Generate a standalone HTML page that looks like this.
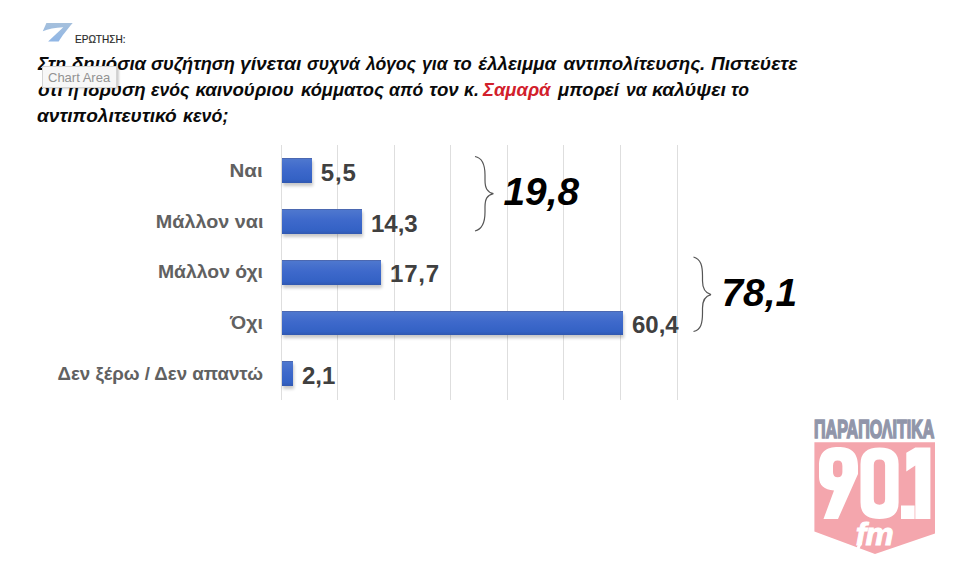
<!DOCTYPE html>
<html>
<head>
<meta charset="utf-8">
<style>
html,body{margin:0;padding:0;background:#fff;}
body{width:960px;height:565px;position:relative;overflow:hidden;font-family:"Liberation Sans",sans-serif;}
.abs{position:absolute;white-space:nowrap;}
svg.abs{left:0;top:0;}
.q{font-weight:bold;font-style:italic;font-size:18.7px;color:#0a0a0a;line-height:1;transform-origin:0 0;}
.cat{font-weight:bold;font-size:19px;color:#616161;line-height:1;text-align:right;}
.val{font-weight:bold;font-size:24px;color:#404040;line-height:1;}
.grid{position:absolute;top:145px;height:255px;width:1px;background:#dedede;}
.bar{position:absolute;left:282px;height:24.7px;background:linear-gradient(#5079cf,#3e69cb 45%,#3462c5 85%,#3158b0);box-shadow:inset 0 1px 0 rgba(70,85,140,0.45),1px 3px 3px rgba(0,0,0,0.22);}
.big{font-weight:bold;font-style:italic;font-size:38.8px;color:#000;line-height:1;}
</style>
</head>
<body>
<!-- logo 7 -->
<svg class="abs" width="960" height="565" viewBox="0 0 960 565">
  <defs><linearGradient id="g7" x1="0" y1="23" x2="0" y2="42" gradientUnits="userSpaceOnUse"><stop offset="0" stop-color="#a6c0dc"/><stop offset="1" stop-color="#8fb6e6"/></linearGradient></defs>
  <path d="M46.4 23 L72.7 23 C66 31 62 36 58.7 41.6 L48.1 41.6 L63.3 27.2 C55 27.5 48 29 42.8 31.2 Z" fill="url(#g7)"/>
</svg>
<div class="abs" style="left:75.3px;top:34.6px;font-size:10.4px;color:#2a2a2a;line-height:1;transform-origin:0 0;transform:scaleX(0.965);-webkit-text-stroke:0.2px #2a2a2a;">ΕΡΩΤΗΣΗ:</div>

<!-- question -->
<div class="abs q" style="left:38.1px;top:55.4px;transform:scaleX(0.952);">Στη</div>
<div class="abs q" style="left:71.5px;top:55.4px;transform:scaleX(0.992);">δημόσια</div>
<div class="abs q" style="left:151.1px;top:55.4px;transform:scaleX(0.974);">συζήτηση</div>
<div class="abs q" style="left:239.7px;top:55.4px;transform:scaleX(1.033);">γίνεται</div>
<div class="abs q" style="left:307.0px;top:55.4px;transform:scaleX(0.940);">συχνά</div>
<div class="abs q" style="left:366.1px;top:55.4px;transform:scaleX(0.944);">λόγος</div>
<div class="abs q" style="left:421.6px;top:55.4px;transform:scaleX(0.940);">για</div>
<div class="abs q" style="left:453.2px;top:55.4px;transform:scaleX(0.983);">το</div>
<div class="abs q" style="left:478.2px;top:55.4px;">έλλειμμα</div>
<div class="abs q" style="left:563.6px;top:55.4px;">αντιπολίτευσης.</div>
<div class="abs q" style="left:711.0px;top:55.4px;transform:scaleX(1.026);">Πιστεύετε</div>
<div class="abs q" style="left:37.6px;top:81.4px;transform:scaleX(1.017);">ότι</div>
<div class="abs q" style="left:68.3px;top:81.4px;transform:scaleX(0.940);">η</div>
<div class="abs q" style="left:82.8px;top:81.4px;transform:scaleX(0.998);">ίδρυση</div>
<div class="abs q" style="left:151.1px;top:81.4px;transform:scaleX(0.940);">ενός</div>
<div class="abs q" style="left:195.4px;top:81.4px;">καινούριου</div>
<div class="abs q" style="left:300.6px;top:81.4px;transform:scaleX(0.980);">κόμματος</div>
<div class="abs q" style="left:389.3px;top:81.4px;transform:scaleX(0.940);">από</div>
<div class="abs q" style="left:429.3px;top:81.4px;">τον</div>
<div class="abs q" style="left:463.6px;top:81.4px;transform:scaleX(0.940);">κ.</div>
<div class="abs q" style="left:483.4px;top:81.4px;transform:scaleX(0.988);"><span style="color:#d2202b">Σαμαρά</span></div>
<div class="abs q" style="left:557.9px;top:81.4px;transform:scaleX(0.990);">μπορεί</div>
<div class="abs q" style="left:625.7px;top:81.4px;transform:scaleX(0.940);">να</div>
<div class="abs q" style="left:651.6px;top:81.4px;transform:scaleX(1.040);">καλύψει</div>
<div class="abs q" style="left:730.7px;top:81.4px;transform:scaleX(0.940);">το</div>
<div class="abs q" style="left:37.3px;top:106.6px;transform:scaleX(1.021);">αντιπολιτευτικό</div>
<div class="abs q" style="left:183.4px;top:106.6px;transform:scaleX(0.953);">κενό;</div>

<!-- tooltip -->
<div class="abs" style="left:42px;top:66px;width:73px;height:20px;background:#f7f7f7;border:1px solid #d4d4d4;box-shadow:2px 1px 2px rgba(0,0,0,0.2);"></div>
<div class="abs" style="left:48px;top:71.1px;font-size:13px;color:#929292;line-height:1;">Chart Area</div>

<!-- grid -->
<div class="grid" style="left:281px"></div>
<div class="grid" style="left:337px"></div>
<div class="grid" style="left:394px"></div>
<div class="grid" style="left:450px"></div>
<div class="grid" style="left:507px"></div>
<div class="grid" style="left:563px"></div>
<div class="grid" style="left:620px"></div>
<div class="grid" style="left:677px"></div>

<!-- bars -->
<div class="bar" style="top:158.4px;width:29.9px"></div>
<div class="bar" style="top:209.4px;width:79.8px"></div>
<div class="bar" style="top:260.0px;width:98.9px"></div>
<div class="bar" style="top:310.6px;width:340.8px"></div>
<div class="bar" style="top:361.4px;width:10.9px"></div>

<!-- categories -->
<div class="abs cat" style="right:697px;top:160.9px;transform-origin:100% 50%;transform:scaleX(1.08);">Ναι</div>
<div class="abs cat" style="right:697px;top:211.6px;transform-origin:100% 50%;transform:scaleX(1.04);">Μάλλον ναι</div>
<div class="abs cat" style="right:697px;top:262.3px;transform-origin:100% 50%;transform:scaleX(1.02);">Μάλλον όχι</div>
<div class="abs cat" style="right:697px;top:313px;transform-origin:100% 50%;transform:scaleX(1.03);">Όχι</div>
<div class="abs cat" style="right:697px;top:363.7px;transform-origin:100% 50%;transform:scaleX(0.983);">Δεν ξέρω / Δεν απαντώ</div>

<!-- values -->
<div class="abs val" style="left:320.8px;top:161.3px;letter-spacing:0.8px;">5,5</div>
<div class="abs val" style="left:371px;top:212px;">14,3</div>
<div class="abs val" style="left:390px;top:262.2px;letter-spacing:0.8px;">17,7</div>
<div class="abs val" style="left:632px;top:312.7px;">60,4</div>
<div class="abs val" style="left:302px;top:363.5px;">2,1</div>

<!-- braces -->
<svg class="abs" width="960" height="565" viewBox="0 0 960 565" fill="none" stroke="#555" stroke-width="1.2">
  <path d="M475 156.5 C483 158 485 165 485 175 L485 180 C485 188 487 192 493.4 193.6 C487 195 485 199 485 207 L485 212 C485 222 483 229 475 231"/>
  <path d="M693.5 257 C701 259 702.5 266 702.5 276 L702.5 281 C702.5 289 705 293 711 294.6 C705 296 702.5 300 702.5 308 L702.5 313 C702.5 323 701 330 693.5 331.5"/>
</svg>
<div class="abs big" style="left:503.5px;top:172.8px;">19,8</div>
<div class="abs big" style="left:721.5px;top:274px;">78,1</div>

<!-- logo 90.1 -->
<svg class="abs" width="960" height="565" viewBox="0 0 960 565">
  <path d="M814.4 442.3 L935 442.3 L935 533.5 L875 554 L814.4 531.5 Z" fill="#f4a6ad"/>
  <g fill="#fff" fill-rule="evenodd">
    <path d="M819 466 C819 452 826 447 838.3 447 C850.5 447 858 452 858 466 L858 474 L838 519 L823.5 519 L834 490.5 C824 490 819 485 819 477 Z M833 466 Q833 460.6 837.7 460.6 Q842.4 460.6 842.4 466 L842.4 472 Q842.4 477.3 837.7 477.3 Q833 477.3 833 472 Z"/>
    <path d="M860.5 464 Q860.5 447.5 879.5 447.5 Q898.6 447.5 898.6 464 L898.6 502.5 Q898.6 519 879.5 519 Q860.5 519 860.5 502.5 Z M873.8 465 Q873.8 459.6 879.4 459.6 Q885.1 459.6 885.1 465 L885.1 499.3 Q885.1 504.7 879.4 504.7 Q873.8 504.7 873.8 499.3 Z"/>
    <rect x="901" y="505.5" width="13.6" height="13.5"/>
    <path d="M915.3 447.5 L930.4 447.5 L930.4 519 L915.3 519 L915.3 465.6 L906.3 471.6 L906.3 452.8 Z"/>
  </g>
</svg>
<div class="abs" style="left:814.2px;top:417px;font-weight:bold;font-size:25.5px;color:#9196aa;line-height:1;transform-origin:0 0;transform:scaleX(0.628);-webkit-text-stroke:1.7px #9196aa;">ΠΑΡΑΠΟΛΙΤΙΚΑ</div>
<div class="abs" style="left:855.8px;top:518.5px;font-weight:bold;font-style:italic;font-size:31.6px;color:#fff;line-height:1;-webkit-text-stroke:1px #fff;">f</div>
<div class="abs" style="left:865.5px;top:518.5px;font-weight:bold;font-style:italic;font-size:31.6px;color:#fff;line-height:1;-webkit-text-stroke:1px #fff;">m</div>
<svg class="abs" width="960" height="565" viewBox="0 0 960 565"><path d="M858.5 543 L862 543 L859 550 L855.8 550 Z" fill="#fff"/></svg>
</body>
</html>
